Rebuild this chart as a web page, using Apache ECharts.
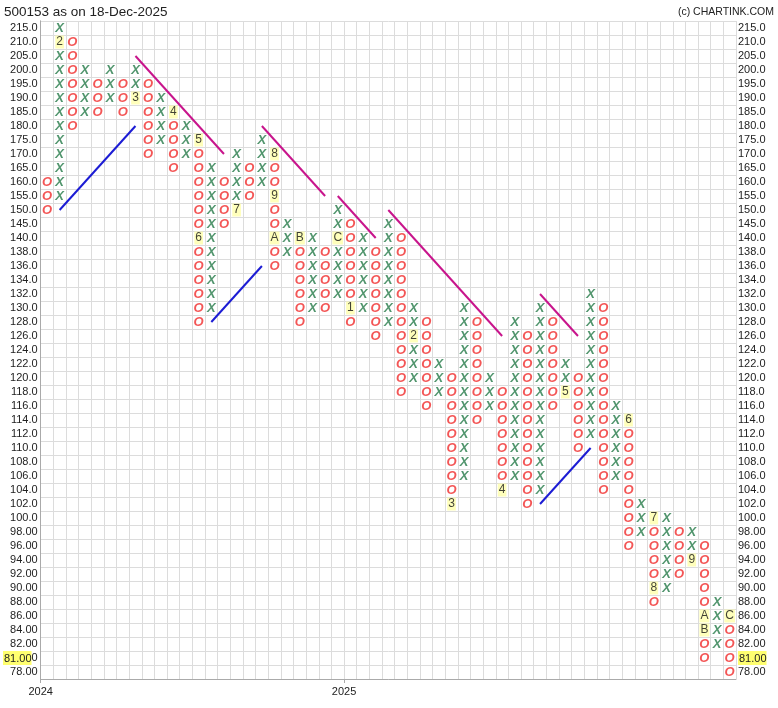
<!DOCTYPE html>
<html><head><meta charset="utf-8">
<script src="https://cdn.jsdelivr.net/npm/echarts@6/dist/echarts.min.js"></script>
<style>html,body{margin:0;padding:0;background:#fff}#c{width:778px;height:708px}</style>
</head><body><div id="c"></div>
<script>
// ---------------- DATA ----------------
const chartTitle = '500153 as on 18-Dec-2025';
const creditText = '(c) CHARTINK.COM';

// price levels (box boundaries), bottom to top
const priceLevels = [78,80,82,84,86,88,90,92,94,96,98,100,102,104,106,108,110,112,114,116,118,120,
  122,124,126,128,130,132,134,136,138,140,145,150,155,160,165,170,175,180,185,190,195,200,205,210,215];

// P&F columns: type, lowest box, highest box
const colTypes   = ['O','X','O','X','O','X','O','X','O','X','O','X','O','X','O','X','O','X','O','X',
                    'O','X','O','X','O','X','O','X','O','X','O','X','O','X','O','X','O','X','O','X',
                    'O','X','O','X','O','X','O','X','O','X','O','X','O','X','O'];
const colBottoms = [150,155,180,185,185,190,185,190,170,175,165,170,128,130,145,150,155,160,136,138,
                    128,130,130,132,128,130,126,128,118,120,116,118,102,106,114,116,104,106,102,104,
                    116,118,110,112,104,106, 96, 98, 88, 90, 92, 94, 80, 82, 78];
const colTops    = [160,215,210,200,195,200,195,200,195,190,185,180,175,165,160,170,165,175,170,145,
                    140,140,138,150,145,140,138,145,140,130,128,122,120,130,128,120,118,128,126,130,
                    128,122,120,132,130,116,114,102,100,100, 98, 98, 96, 88, 86];

// month markers (column index, price, month code)
const markerCols   = [1,7,10,12,12,15,18,18,18,20,23,24,29,32,36,41,46,48,48,51,52,52,54];
const markerPrices = [210,190,185,175,140,150,170,155,140,140,140,130,126,102,104,118,114,100,90,94,86,84,86];
const markerTexts  = ['2','3','4','5','6','7','8','9','A','B','C','1','2','3','4','5','6','7','8','9','A','B','C'];

// trend lines: kind, start column/price, end column/price
const trendKinds       = ['support','resistance','support','resistance','resistance','resistance','support','resistance'];
const trendStartCols   = [1, 7, 13, 17, 23, 27, 39, 39];
const trendStartPrices = [150, 205, 128, 180, 155, 150, 102, 132];
const trendEndCols     = [7, 14, 17, 22, 26, 36, 43, 42];
const trendEndPrices   = [180, 170, 136, 155, 140, 126, 110, 126];

// year labels on the time axis (column where the year starts)
const yearLabels    = ['2024','2025'];
const yearStartCols = [0, 24];

// last price and the row where it is flagged
const lastPriceText = '81.00';
const lastPriceRow  = 80;

// ---------------- CHART ----------------
const fmt = v => v.toPrecision(4);
const catLabels = priceLevels.map(fmt);
const rowOf = p => priceLevels.indexOf(p);
const markerKey = new Set(markerCols.map((c, i) => c + '_' + markerPrices[i]));
const nCols = colTypes.length;

const xCells = [], oCells = [];
colTypes.forEach((t, c) => {
  priceLevels.forEach((p, r) => {
    if (p >= colBottoms[c] && p <= colTops[c] && !markerKey.has(c + '_' + p)) {
      (t === 'X' ? xCells : oCells).push([c + 0.5, r]);
    }
  });
});
const markerData = markerCols.map((c, i) => [c + 0.5, rowOf(markerPrices[i])]);

const baseFont = "'Liberation Sans', Arial, sans-serif";
const trendStyle = { support: '#1c1cd4', resistance: '#c8158c' };

const glyphLabel = (txt, color) => ({
  show: true, position: 'inside', formatter: txt, color: color,
  fontSize: 13, fontWeight: 'bold', fontStyle: 'italic', fontFamily: baseFont
});

const series = [];
trendKinds.forEach((k, i) => {
  series.push({
    type: 'line', silent: true, symbol: 'none', z: 3,
    lineStyle: { color: trendStyle[k], width: 2 },
    data: [[trendStartCols[i] + 0.5, rowOf(trendStartPrices[i])], [trendEndCols[i] + 0.5, rowOf(trendEndPrices[i])]]
  });
});
series.push({ type: 'scatter', silent: true, z: 5, symbol: 'rect', symbolSize: 1,
  itemStyle: { color: 'rgba(0,0,0,0)' }, data: xCells, label: glyphLabel('X', '#267a48') });
series.push({ type: 'scatter', silent: true, z: 5, symbol: 'rect', symbolSize: 1,
  itemStyle: { color: 'rgba(0,0,0,0)' }, data: oCells, label: glyphLabel('O', '#f02c2c') });
series.push({ type: 'scatter', silent: true, z: 6, symbol: 'rect', symbolSize: 1,
  itemStyle: { color: 'rgba(0,0,0,0)' }, data: markerData,
  label: { show: true, position: 'inside', formatter: p => markerTexts[p.dataIndex],
    color: '#111', fontSize: 12, fontFamily: baseFont, backgroundColor: '#ffffaa', padding: [1, 1, 0, 1] } });

const yLabelCommon = { interval: 0, fontSize: 11, color: '#222', fontFamily: baseFont,
  rich: { hl: { backgroundColor: '#ffff70', fontSize: 11, color: '#222', fontFamily: baseFont, padding: [2, 0, 1, 1] },
          n: { fontSize: 11, color: '#222', fontFamily: baseFont } } };

const option = {
  animation: false,
  backgroundColor: '#fff',
  title: [
    { text: chartTitle, left: 4, top: 5, padding: 0, textStyle: { fontSize: 13.5, fontWeight: 'normal', color: '#222', fontFamily: baseFont } },
    { text: creditText, right: 4, top: 7, padding: 0, textStyle: { fontSize: 10.5, fontWeight: 'normal', color: '#222', fontFamily: baseFont } }
  ],
  grid: { left: 40, right: 42, top: 21, bottom: 29 },
  xAxis: [
    { type: 'value', min: 0, max: nCols, interval: 1, position: 'bottom',
      axisLine: { show: true, lineStyle: { color: '#aaa', width: 1 } },
      splitLine: { show: true, lineStyle: { color: '#dcdcdc' } },
      axisTick: { show: false }, axisLabel: { show: false } },
    { type: 'value', min: 0, max: nCols, position: 'bottom',
      axisLine: { show: false }, splitLine: { show: false },
      axisTick: { show: true, customValues: yearStartCols, length: 4, lineStyle: { color: '#aaa' } },
      axisLabel: { customValues: yearStartCols, margin: 7, fontSize: 11, color: '#222', fontFamily: baseFont,
        formatter: v => { const i = yearStartCols.indexOf(v); return i >= 0 ? yearLabels[i] : ''; } } }
  ],
  yAxis: [
    { type: 'category', data: catLabels, position: 'left', boundaryGap: true,
      axisLine: { show: true, lineStyle: { color: '#aaa' } }, axisTick: { show: false },
      splitLine: { show: true, interval: 0, lineStyle: { color: '#dcdcdc' } },
      axisLabel: Object.assign({}, yLabelCommon, { margin: 3,
        formatter: (v, i) => priceLevels[i] === lastPriceRow ? '{hl|' + lastPriceText + '}{n|0}' : v }) },
    { type: 'category', data: catLabels, position: 'right', boundaryGap: true,
      axisLine: { show: true, lineStyle: { color: '#aaa' } }, axisTick: { show: false },
      splitLine: { show: false },
      axisLabel: Object.assign({}, yLabelCommon, { margin: 2,
        formatter: (v, i) => priceLevels[i] === lastPriceRow ? '{hl|' + lastPriceText + '}' : v }) }
  ],
  series: series
};
const chart = echarts.init(document.getElementById('c'));
chart.setOption(option);
</script></body></html>
